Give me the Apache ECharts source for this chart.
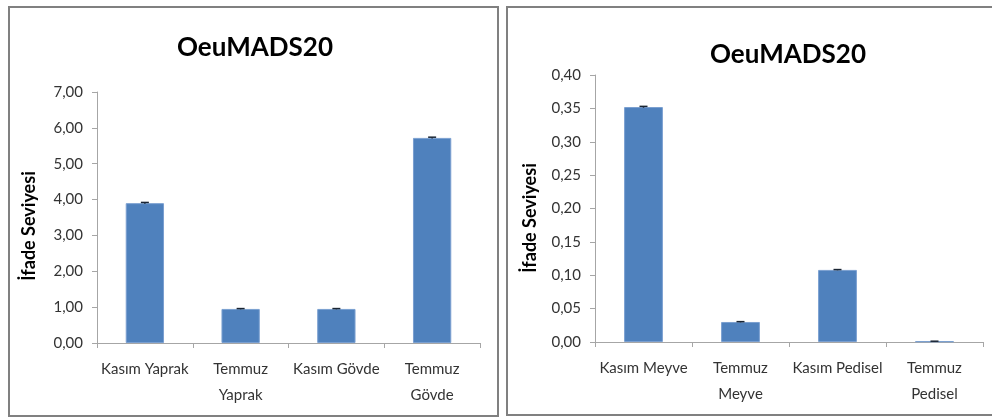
<!DOCTYPE html>
<html>
<head>
<meta charset="utf-8">
<script src="https://cdn.jsdelivr.net/npm/echarts@6/dist/echarts.min.js"></script>
<style>
  html, body { margin: 0; padding: 0; background: #fff; }
  #chart { width: 992px; height: 420px; }
</style>
</head>
<body>
<div id="chart"></div>
<script>
// Left panel: leaf and stem samples
const leftCategories = ['Kasım Yaprak', 'Temmuz\nYaprak', 'Kasım Gövde', 'Temmuz\nGövde'];
const leftValues = [3.90, 0.95, 0.95, 5.72];
const leftErrors = [0.02, 0.01, 0.01, 0.02];
const leftAxis = { min: 0, max: 7, interval: 1 };

// Right panel: fruit and pedicel samples
const rightCategories = ['Kasım Meyve', 'Temmuz\nMeyve', 'Kasım Pedisel', 'Temmuz\nPedisel'];
const rightValues = [0.352, 0.030, 0.108, 0.001];
const rightErrors = [0.001, 0.0005, 0.0005, 0.0002];
const rightAxis = { min: 0, max: 0.40, interval: 0.05 };

const titleText = 'OeuMADS20';
const yName = 'İfade Seviyesi';

const FONT = 'Lato, "Open Sans", sans-serif';
const BAR = '#4f81bd';
const AXIS = '#a6a6a6';
const TEXT = '#333333';

function comma(v) { return v.toFixed(2).replace('.', ','); }

function yAxis(idx, cfg) {
  return {
    type: 'value', gridIndex: idx, min: cfg.min, max: cfg.max, interval: cfg.interval,
    axisLine: { show: true, lineStyle: { color: AXIS } },
    axisTick: { show: true, length: 5, lineStyle: { color: AXIS } },
    splitLine: { show: false },
    axisLabel: { fontFamily: FONT, fontSize: 15, color: TEXT, margin: 14, formatter: comma }
  };
}

function xAxis(idx, cats) {
  return {
    type: 'category', gridIndex: idx, data: cats,
    axisLine: { show: true, lineStyle: { color: AXIS } },
    axisTick: { show: true, length: 5, lineStyle: { color: AXIS } },
    axisLabel: { fontFamily: FONT, fontSize: 15, color: TEXT, margin: 13, lineHeight: 26, interval: 0 }
  };
}

function errorSeries(idx, values, errors) {
  return {
    type: 'custom', xAxisIndex: idx, yAxisIndex: idx, z: 5,
    data: values.map((v, i) => [i, v - errors[i], v + errors[i]]),
    renderItem: function (params, api) {
      const lo = api.coord([api.value(0), api.value(1)]);
      const hi = api.coord([api.value(0), api.value(2)]);
      const half = 4;
      const style = { stroke: '#1a2533', lineWidth: 1.5 };
      return {
        type: 'group',
        children: [
          { type: 'line', shape: { x1: hi[0], y1: hi[1], x2: lo[0], y2: lo[1] }, style },
          { type: 'line', shape: { x1: hi[0] - half, y1: hi[1], x2: hi[0] + half, y2: hi[1] }, style }
        ]
      };
    }
  };
}

function axisTitle(x, y) {
  return {
    type: 'text', x: x, y: y, rotation: Math.PI / 2,
    style: { text: yName, fontFamily: FONT, fontWeight: 'bold', fontSize: 18, fill: '#000',
             align: 'center', verticalAlign: 'middle' }
  };
}

const chart = echarts.init(document.getElementById('chart'), null, { renderer: 'canvas' });
chart.setOption({
  backgroundColor: '#fff',
  animation: false,
  graphic: [
    { type: 'rect', shape: { x: 9, y: 7, width: 489, height: 409 },
      style: { fill: 'none', stroke: '#808080', lineWidth: 2 } },
    { type: 'rect', shape: { x: 507, y: 7, width: 500, height: 408 },
      style: { fill: 'none', stroke: '#808080', lineWidth: 2 } },
    axisTitle(29, 226),
    axisTitle(530, 218)
  ],
  title: [
    { text: titleText, left: 250, top: 30, textAlign: 'center',
      textStyle: { fontFamily: FONT, fontWeight: 'bold', fontSize: 26, color: '#000' } },
    { text: titleText, left: 783, top: 37, textAlign: 'center',
      textStyle: { fontFamily: FONT, fontWeight: 'bold', fontSize: 26, color: '#000' } }
  ],
  grid: [
    { left: 97, right: 512, top: 92, bottom: 77 },
    { left: 595, right: 9, top: 75, bottom: 78 }
  ],
  xAxis: [xAxis(0, leftCategories), xAxis(1, rightCategories)],
  yAxis: [yAxis(0, leftAxis), yAxis(1, rightAxis)],
  series: [
    { type: 'bar', xAxisIndex: 0, yAxisIndex: 0, data: leftValues, barWidth: '40%',
      itemStyle: { color: BAR, borderColor: '#7a9fd0', borderWidth: 1 } },
    errorSeries(0, leftValues, leftErrors),
    { type: 'bar', xAxisIndex: 1, yAxisIndex: 1, data: rightValues, barWidth: '40%',
      itemStyle: { color: BAR, borderColor: '#7a9fd0', borderWidth: 1 } },
    errorSeries(1, rightValues, rightErrors)
  ]
});
</script>
</body>
</html>
